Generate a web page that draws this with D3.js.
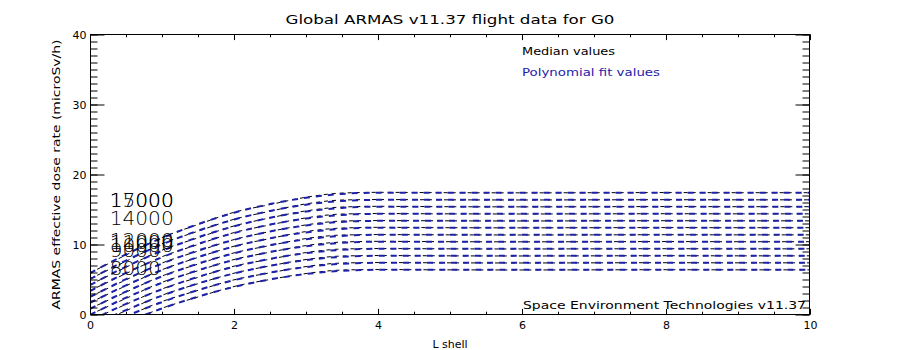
<!DOCTYPE html>
<html><head><meta charset="utf-8">
<script src="https://cdn.jsdelivr.net/npm/d3@7"></script>
<style>
body{margin:0;background:#fff;}
text{font-family:"DejaVu Sans",sans-serif;}
</style></head><body>
<svg id="c" width="900" height="350"></svg>
<script>
const title = "Global ARMAS v11.37 flight data for G0";
const xLabel = "L shell";
const yLabel = "ARMAS effective dose rate (microSv/h)";
const legendItems = ["Median values", "Polynomial fit values"];
const footer = "Space Environment Technologies v11.37";
const xTicks = [0, 2, 4, 6, 8, 10];
const yTicks = [0, 10, 20, 30, 40];
const lShell = [0, 0.5, 1, 1.5, 2, 2.5, 3, 3.5, 4, 5, 6, 7, 8, 9, 10];
const altitudes = [17000, 16000, 15000, 14000, 13000, 12000, 11000, 10000, 9000, 8000, 7000, 6000];
const fit17000 = [5.9, 8.6, 10.93, 12.91, 14.53, 15.78, 16.68, 17.22, 17.4, 17.4, 17.4, 17.4, 17.4, 17.4, 17.4];
const fit16000 = [5.05, 7.71, 10.02, 11.97, 13.56, 14.8, 15.69, 16.22, 16.38, 16.38, 16.38, 16.38, 16.38, 16.38, 16.38];
const fit15000 = [4.2, 6.83, 9.1, 11.03, 12.6, 13.83, 14.7, 15.23, 15.4, 15.4, 15.4, 15.4, 15.4, 15.4, 15.4];
const fit14000 = [3.35, 5.94, 8.18, 10.08, 11.64, 12.85, 13.71, 14.23, 14.38, 14.38, 14.38, 14.38, 14.38, 14.38, 14.38];
const fit13000 = [2.5, 5.05, 7.27, 9.14, 10.67, 11.87, 12.72, 13.23, 13.38, 13.38, 13.38, 13.38, 13.38, 13.38, 13.38];
const fit12000 = [1.65, 4.17, 6.35, 8.2, 9.71, 10.89, 11.73, 12.23, 12.4, 12.4, 12.4, 12.4, 12.4, 12.4, 12.4];
const fit11000 = [0.8, 3.28, 5.44, 7.26, 8.75, 9.91, 10.74, 11.23, 11.38, 11.38, 11.38, 11.38, 11.38, 11.38, 11.38];
const fit10000 = [-0.05, 2.4, 4.52, 6.32, 7.79, 8.93, 9.75, 10.24, 10.4, 10.4, 10.4, 10.4, 10.4, 10.4, 10.4];
const fit9000 = [-0.9, 1.51, 3.6, 5.38, 6.82, 7.95, 8.76, 9.24, 9.38, 9.38, 9.38, 9.38, 9.38, 9.38, 9.38];
const fit8000 = [-1.75, 0.63, 2.69, 4.44, 5.86, 6.97, 7.77, 8.24, 8.38, 8.38, 8.38, 8.38, 8.38, 8.38, 8.38];
const fit7000 = [-2.6, -0.26, 1.77, 3.49, 4.9, 5.99, 6.78, 7.24, 7.38, 7.38, 7.38, 7.38, 7.38, 7.38, 7.38];
const fit6000 = [-3.45, -1.14, 0.86, 2.55, 3.94, 5.01, 5.78, 6.25, 6.38, 6.38, 6.38, 6.38, 6.38, 6.38, 6.38];
const med17000 = [5.95, 8.5, 11.0, 12.85, 14.6, 15.7, 16.75, 17.35, 17.45, 17.4, 17.38, 17.4, 17.42, 17.4, 17.4];
const med16000 = [5.1, 7.6, 10.1, 11.9, 13.6, 14.75, 15.8, 16.35, 16.42, 16.38, 16.36, 16.38, 16.4, 16.38, 16.38];
const med15000 = [4.25, 6.75, 9.2, 10.95, 12.65, 13.8, 14.8, 15.35, 15.45, 15.4, 15.38, 15.4, 15.42, 15.4, 15.4];
const med14000 = [3.4, 5.85, 8.25, 10.0, 11.7, 12.8, 13.8, 14.35, 14.42, 14.38, 14.36, 14.38, 14.4, 14.38, 14.38];
const med13000 = [2.55, 4.95, 7.35, 9.05, 10.7, 11.85, 12.8, 13.35, 13.42, 13.38, 13.36, 13.38, 13.4, 13.38, 13.38];
const med12000 = [1.7, 4.1, 6.4, 8.15, 9.75, 10.85, 11.85, 12.35, 12.45, 12.4, 12.38, 12.4, 12.42, 12.4, 12.4];
const med11000 = [0.85, 3.2, 5.5, 7.2, 8.8, 9.85, 10.85, 11.35, 11.42, 11.38, 11.36, 11.38, 11.4, 11.38, 11.38];
const med10000 = [0.0, 2.3, 4.6, 6.25, 7.85, 8.9, 9.85, 10.35, 10.45, 10.4, 10.38, 10.4, 10.42, 10.4, 10.4];
const med9000 = [-0.85, 1.45, 3.65, 5.3, 6.9, 7.9, 8.85, 9.35, 9.42, 9.38, 9.36, 9.38, 9.4, 9.38, 9.38];
const med8000 = [-1.7, 0.55, 2.75, 4.4, 5.9, 6.95, 7.85, 8.35, 8.42, 8.38, 8.36, 8.38, 8.4, 8.38, 8.38];
const med7000 = [-2.55, -0.3, 1.85, 3.45, 4.95, 5.95, 6.85, 7.35, 7.42, 7.38, 7.36, 7.38, 7.4, 7.38, 7.38];
const med6000 = [-3.4, -1.2, 0.9, 2.5, 4.0, 5.0, 5.85, 6.35, 6.42, 6.38, 6.36, 6.38, 6.4, 6.38, 6.38];
const fits = [fit17000, fit16000, fit15000, fit14000, fit13000, fit12000, fit11000, fit10000, fit9000, fit8000, fit7000, fit6000];
const medians = [med17000, med16000, med15000, med14000, med13000, med12000, med11000, med10000, med9000, med8000, med7000, med6000];
const curveLabels = ["17000", "15000", "14000", "12000", "11000", "10000", "9000", "8000"];
const curveLabelL = [0.26, 0.26, 0.26, 0.26, 0.26, 0.26, 0.26, 0.26];
const curveLabelY = [15.35, 15.35, 12.8, 9.7, 9.3, 9.0, 8.2, 5.6];

const svg = d3.select("#c");
const x = d3.scaleLinear().domain([0, 10]).range([90, 810]);
const y = d3.scaleLinear().domain([0, 40]).range([314.5, 34.5]);
const blue = "#1e22a8";

svg.append("defs").append("clipPath").attr("id", "clip")
  .append("rect").attr("x", 90).attr("y", 34.5).attr("width", 720).attr("height", 280);

const plot = svg.append("g").attr("clip-path", "url(#clip)");
const line = d3.line().x((d, i) => x(lShell[i])).y(d => y(d)).curve(d3.curveMonotoneX);

medians.forEach(m => {
  plot.append("path").attr("d", line(m)).attr("fill", "none")
    .attr("stroke", "#000").attr("stroke-width", 1).attr("stroke-dasharray", "4,4");
});
fits.forEach(f => {
  plot.append("path").attr("d", line(f)).attr("fill", "none")
    .attr("stroke", blue).attr("stroke-width", 2).attr("stroke-dasharray", "6,6");
});

// axes
const minorX = d3.range(0, 10.01, 0.5);
const minorY = d3.range(0, 40.01, 1);
function styleAxis(g) { g.select(".domain").remove(); g.selectAll("line").attr("stroke", "#000"); }
svg.append("g").attr("transform", "translate(0,314.5)")
  .call(d3.axisBottom(x).tickValues(minorX).tickSize(-2.8).tickFormat("")).call(styleAxis);
svg.append("g").attr("transform", "translate(0,314.5)")
  .call(d3.axisBottom(x).tickValues(xTicks).tickSize(-5.6).tickFormat(d3.format("d")))
  .call(styleAxis)
  .call(g => g.selectAll("text").attr("font-size", 11).attr("fill", "#000").attr("y", 7).attr("dy", "0.71em"));
svg.append("g").attr("transform", "translate(0,34.5)")
  .call(d3.axisTop(x).tickValues(minorX).tickSize(-2.8).tickFormat("")).call(styleAxis);
svg.append("g").attr("transform", "translate(0,34.5)")
  .call(d3.axisTop(x).tickValues(xTicks).tickSize(-5.6).tickFormat("")).call(styleAxis);
svg.append("g").attr("transform", "translate(90.5,0)")
  .call(d3.axisLeft(y).tickValues(minorY).tickSize(-7).tickFormat("")).call(styleAxis);
svg.append("g").attr("transform", "translate(90.5,0)")
  .call(d3.axisLeft(y).tickValues(yTicks).tickSize(-14).tickFormat(d3.format("d")))
  .call(styleAxis)
  .call(g => g.selectAll("text").attr("font-size", 11).attr("fill", "#000").attr("x", -4));
svg.append("g").attr("transform", "translate(809.5,0)")
  .call(d3.axisRight(y).tickValues(minorY).tickSize(-7).tickFormat("")).call(styleAxis);
svg.append("g").attr("transform", "translate(809.5,0)")
  .call(d3.axisRight(y).tickValues(yTicks).tickSize(-14).tickFormat("")).call(styleAxis);
svg.append("rect").attr("x", 90.5).attr("y", 34.5).attr("width", 719).attr("height", 280)
  .attr("fill", "none").attr("stroke", "#000").attr("stroke-width", 1);

// curve labels
curveLabels.forEach((t, i) => {
  svg.append("text").attr("x", x(curveLabelL[i]) + 1).attr("y", y(curveLabelY[i]))
    .attr("font-size", 19).attr("fill", "#000").attr("font-weight", 200)
    .attr("lengthAdjust", "spacingAndGlyphs")
    .attr("textLength", t.length === 5 ? 64 : 51).text(t);
});

// texts
svg.append("text").attr("x", 450).attr("y", 24).attr("text-anchor", "middle")
  .attr("font-size", 13).attr("textLength", 329).attr("lengthAdjust", "spacingAndGlyphs").text(title);
svg.append("text").attr("x", 450).attr("y", 348).attr("text-anchor", "middle")
  .attr("font-size", 11).text(xLabel);
svg.append("text").attr("transform", "translate(60,174.5) rotate(-90)").attr("text-anchor", "middle")
  .attr("font-size", 11).attr("textLength", 270).attr("lengthAdjust", "spacingAndGlyphs").text(yLabel);
svg.append("text").attr("x", 522).attr("y", 55).attr("font-size", 11)
  .attr("textLength", 93).attr("lengthAdjust", "spacingAndGlyphs").text(legendItems[0]);
svg.append("text").attr("x", 522).attr("y", 76).attr("font-size", 11).attr("fill", blue)
  .attr("textLength", 138).attr("lengthAdjust", "spacingAndGlyphs").text(legendItems[1]);
svg.append("text").attr("x", 523).attr("y", 308.5).attr("font-size", 11)
  .attr("textLength", 283).attr("lengthAdjust", "spacingAndGlyphs").text(footer);
</script></body></html>
